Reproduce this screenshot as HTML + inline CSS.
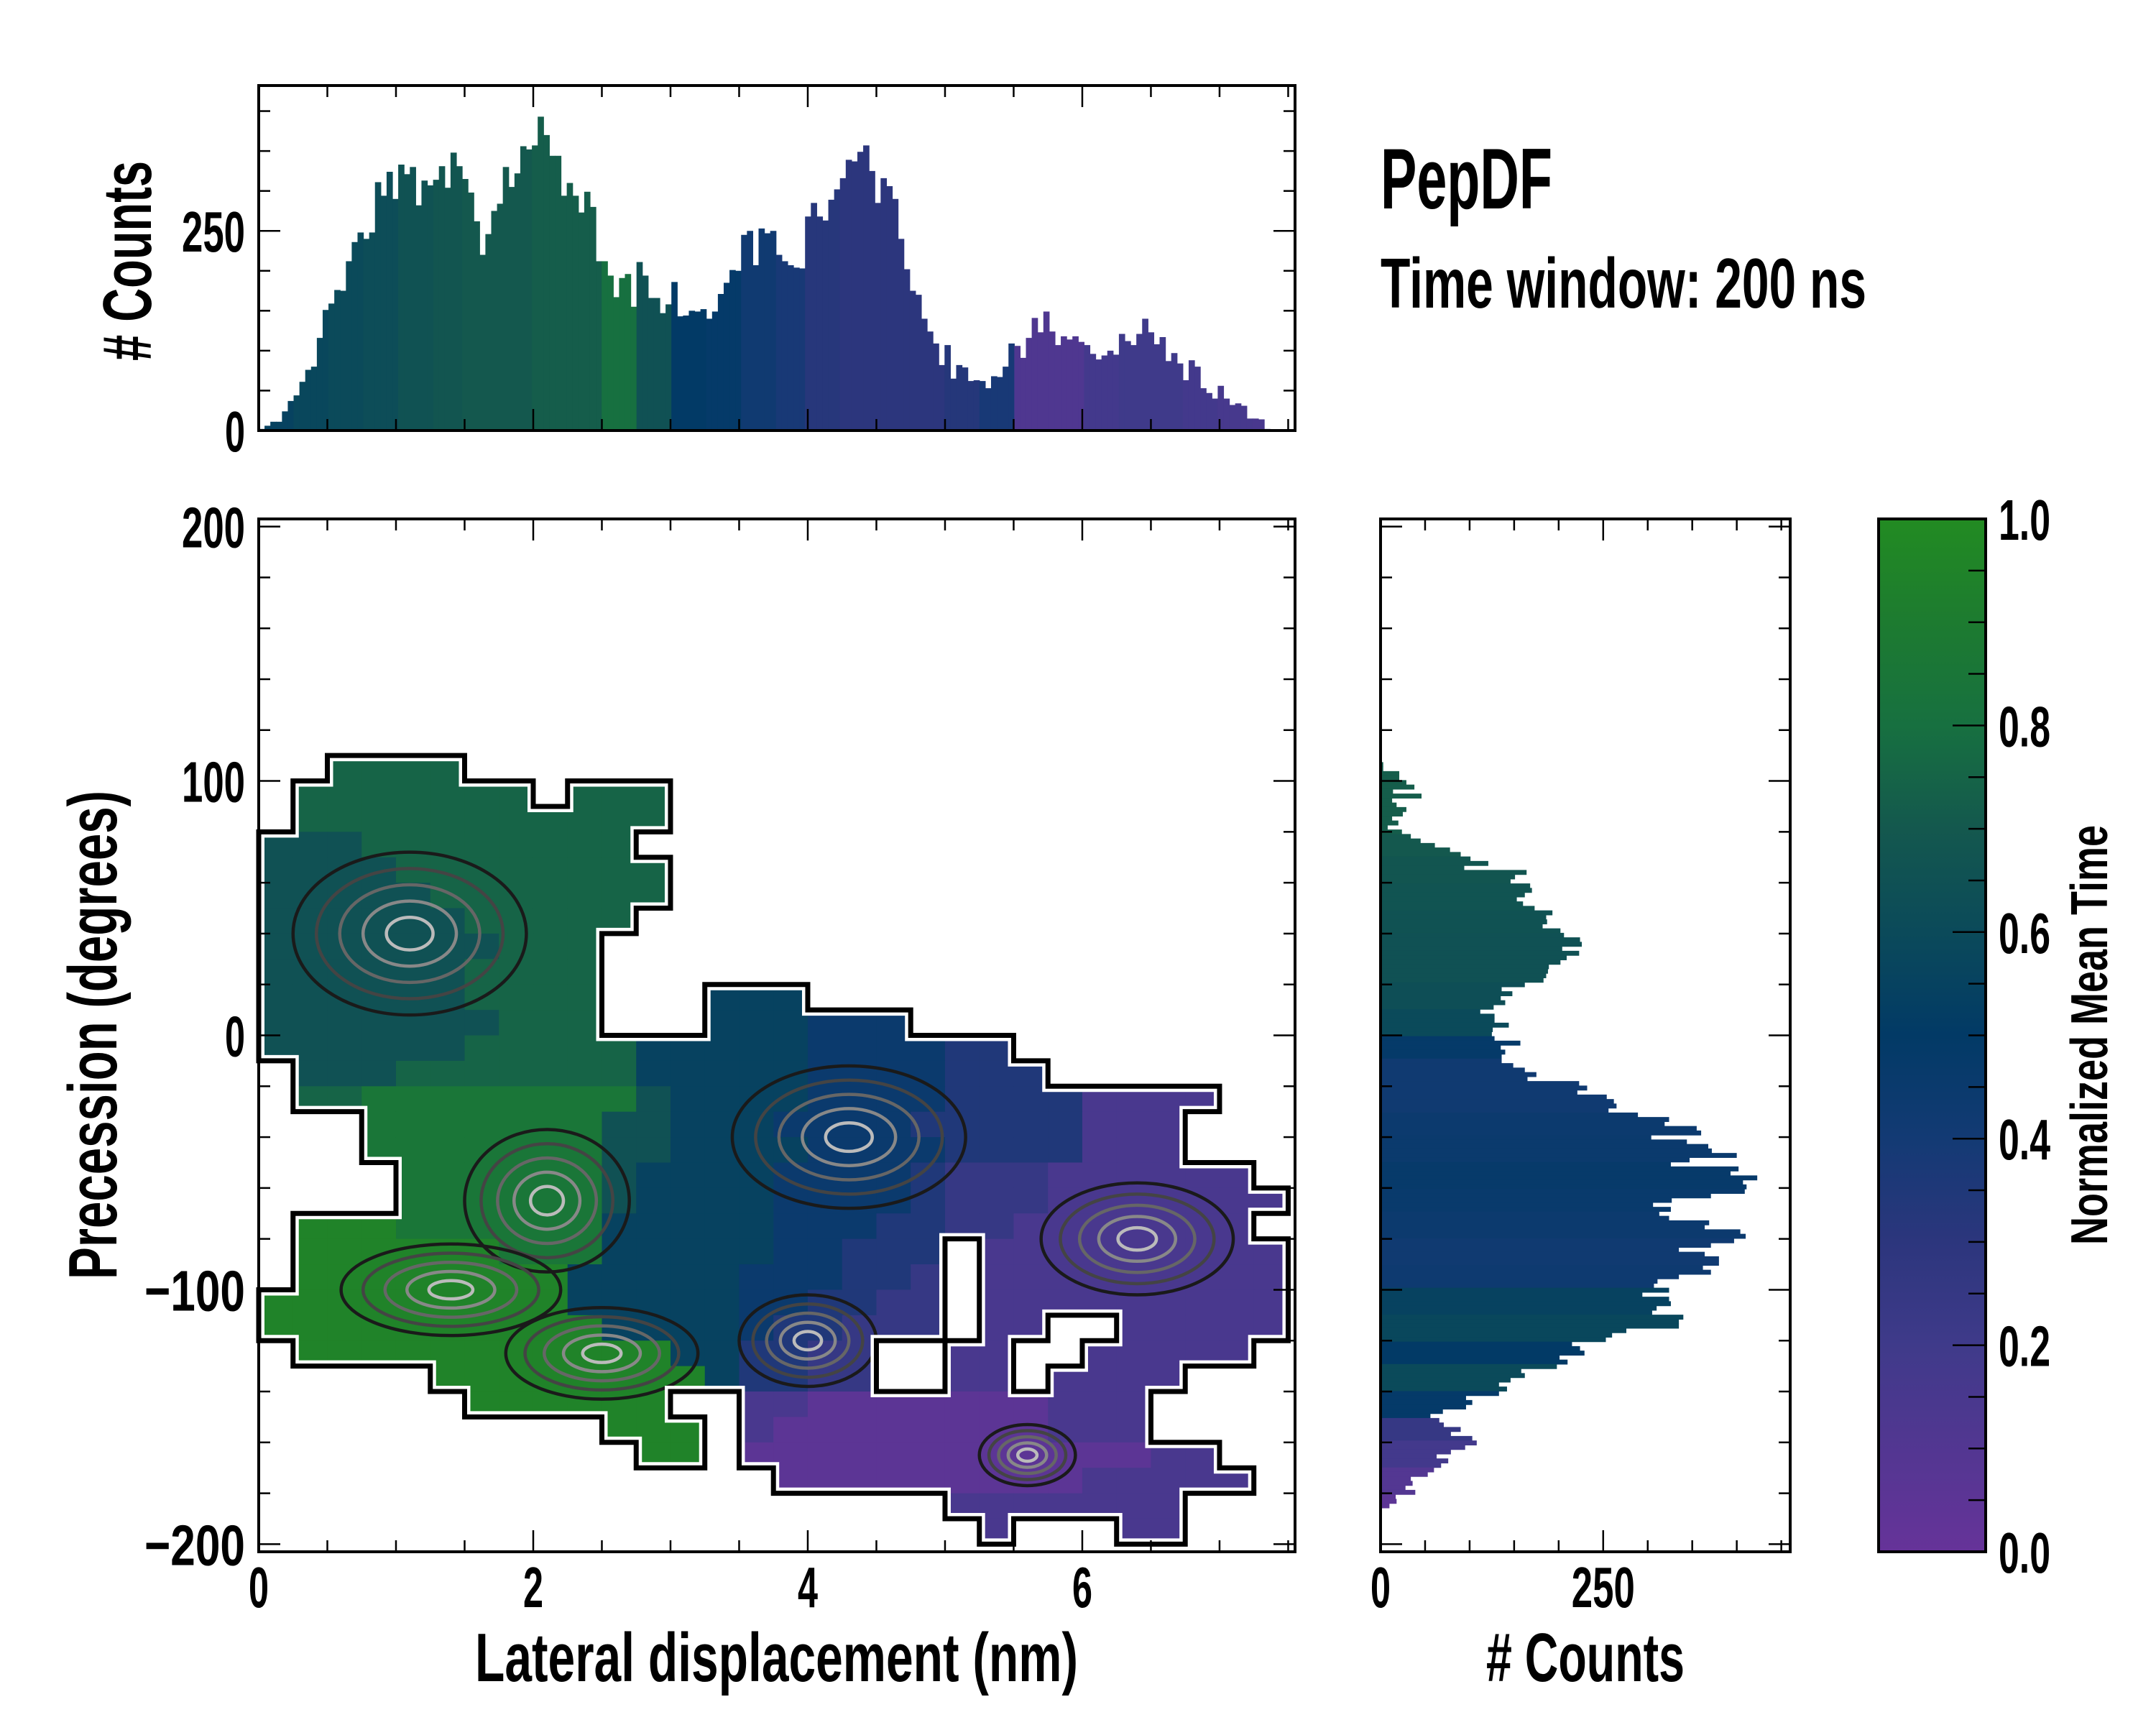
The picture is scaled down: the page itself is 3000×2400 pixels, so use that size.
<!DOCTYPE html>
<html><head><meta charset="utf-8"><style>
html,body{margin:0;padding:0;background:#fff;}
svg{display:block;}
text{font-family:"Liberation Sans",sans-serif;font-weight:bold;fill:#000;}
</style></head><body>
<svg id="fig" width="3000" height="2400" viewBox="0 0 3000 2400" xmlns="http://www.w3.org/2000/svg">
<defs>
<linearGradient id="cbgrad" x1="0" y1="1" x2="0" y2="0">
<stop offset="0" stop-color="#663399"/><stop offset="0.2" stop-color="#3f3a8a"/><stop offset="0.3" stop-color="#2c367d"/><stop offset="0.4" stop-color="#133a74"/><stop offset="0.5" stop-color="#023a66"/><stop offset="0.6" stop-color="#0b4a5a"/><stop offset="0.7" stop-color="#14584e"/><stop offset="0.8" stop-color="#177040"/><stop offset="0.9" stop-color="#1d7b30"/><stop offset="1" stop-color="#228b22"/>
</linearGradient>
</defs>
<g id="topHist"></g>
<g id="mainPlot"></g>
<g id="rightHist"></g>
<g id="cbar">
<rect x="2614" y="722" width="149" height="1437" fill="url(#cbgrad)" stroke="#000" stroke-width="4"/>
</g>
<g id="labels">
<text x="1921" y="290" font-size="120" textLength="239" lengthAdjust="spacingAndGlyphs">PepDF</text>
<text x="1921" y="428" font-size="98" textLength="676" lengthAdjust="spacingAndGlyphs">Time window: 200 ns</text>
<text x="661" y="2339" font-size="96" textLength="839" lengthAdjust="spacingAndGlyphs">Lateral displacement (nm)</text>
<text x="2068" y="2339" font-size="96" textLength="276" lengthAdjust="spacingAndGlyphs"># Counts</text>
<text transform="translate(162,1440) rotate(-90)" text-anchor="middle" font-size="96" textLength="680" lengthAdjust="spacingAndGlyphs">Precession (degrees)</text>
<text transform="translate(210,363) rotate(-90)" text-anchor="middle" font-size="96" textLength="278" lengthAdjust="spacingAndGlyphs"># Counts</text>
<text transform="translate(2932,1440) rotate(-90)" text-anchor="middle" font-size="72" textLength="584" lengthAdjust="spacingAndGlyphs">Normalized Mean Time</text>
</g>
</svg>
<script>
// ---------- data ----------
const topCounts=[2,6,11,11,24,37,44,61,76,80,116,151,159,176,175,212,236,248,240,248,311,294,324,290,333,321,330,282,313,307,314,331,304,348,331,315,298,262,220,246,275,284,330,305,322,356,352,357,393,370,344,344,294,310,294,273,299,280,212,212,194,167,191,196,155,211,194,166,166,147,158,186,143,144,150,149,152,140,149,171,185,201,200,245,250,207,253,247,250,220,212,207,204,203,268,285,268,263,289,302,316,339,337,349,357,325,285,316,306,290,240,202,175,170,140,124,109,82,107,65,82,79,62,63,62,53,68,67,80,109,106,91,116,141,123,149,124,107,118,114,118,111,107,96,89,94,100,95,121,112,107,121,140,123,108,117,87,97,84,63,88,80,53,47,40,56,40,32,34,31,15,15,14,2,1];
const topTime=[0.55,0.58,0.6,0.62,0.66,0.68,0.7,0.7,0.72,0.72,0.8,0.65,0.5,0.48,0.42,0.38,0.32,0.3,0.3,0.3,0.33,0.38,0.12,0.12,0.18,0.2,0.2,0.18,0.16,0.15];
const rightCounts=[3,3,21,21,29,38,14,46,13,18,29,25,13,20,8,24,34,45,61,78,90,101,121,94,164,151,146,168,170,162,153,160,173,193,186,187,182,202,206,224,226,204,223,209,202,189,188,186,183,162,136,148,135,140,127,112,128,128,144,126,125,128,157,135,140,136,136,149,162,175,165,223,232,221,254,262,265,256,289,324,319,355,360,304,344,368,372,400,347,326,402,393,423,407,411,409,371,327,306,326,313,324,369,364,404,410,397,371,335,364,380,380,362,371,335,311,307,324,294,324,326,310,305,340,335,335,276,260,253,215,224,229,201,210,198,158,162,146,133,142,133,96,103,96,70,56,66,71,90,79,103,108,95,79,63,76,68,60,53,34,36,28,39,17,18,10,1];
const rightTime=[0.72,0.72,0.72,0.7,0.68,0.67,0.66,0.65,0.65,0.63,0.6,0.48,0.42,0.42,0.44,0.45,0.47,0.46,0.44,0.42,0.43,0.55,0.58,0.5,0.6,0.48,0.25,0.18,0.1,0.05,0.05];
const rowTops=[110,100,90,80,70,60,50,40,30,20,10,0,-10,-20,-30,-40,-50,-60,-70,-80,-90,-100,-110,-120,-130,-140,-150,-160,-170,-180,-190];
const gridRows=[
"..7777........................",
".7777777.777..................",
".77777777777..................",
"66677777777...................",
"666677777777..................",
"666667777777..................",
"66666677777...................",
"6666666777....................",
"6666667777....................",
"6666667777...555..............",
"6666666777...555444...........",
"6666667777755555444433........",
".6667777777555554444333.......",
".778888888865555444433331111...",
"...888888866555444433333111...",
"...888888866555544443333111...",
"....8888886555544443222111111.",
"....88888865555444432221111111",
".9998888885555544433221111111",
".9999998885555544333.111111111",
".9999999955555444332.111111111",
"99999999955555443322.111111111",
"99999999995555433222.11..11111",
".99999999999553322..11..11111",
".....9999999953322..11.1111..",
"......999999..110000000111....",
"..........999.100000000111...",
"...........99.00000000000011...",
"...............00000000011111..",
"....................1111111...",
".....................1...11..."];
const peakX=[1.1,2.1,4.3,1.4,2.5,6.4,5.6,4.0];
const peakY=[40,-65,-40,-100,-125,-80,-165,-120];
const peakRx=[0.85,0.6,0.85,0.8,0.7,0.7,0.35,0.5];
const peakRy=[32,28,28,18,18,22,12,18];
const xTickLabels=["0","2","4","6"];
const yTickLabels=["200","100","0","\u2212100","\u2212200"];
const cbTickLabels=["0.0","0.2","0.4","0.6","0.8","1.0"];

// ---------- scales ----------
const NS="http://www.w3.org/2000/svg";
const M={L:360,R:1802,T:722,B:2159,x0:0,x1:7.55,y0:-203,y1:203};
const TH={T:119,B:599,max:432};
const RH={L:1921,R:2491,max:460};
const CB={L:2614,R:2763};
const X=v=>M.L+(v-M.x0)/(M.x1-M.x0)*(M.R-M.L);
const Y=v=>M.B-(v-M.y0)/(M.y1-M.y0)*(M.B-M.T);
const THy=c=>TH.B-c/TH.max*(TH.B-TH.T);
const RHx=c=>RH.L+c/RH.max*(RH.R-RH.L);
const stops=[[0,[102,51,153]],[0.2,[63,58,138]],[0.3,[44,54,125]],[0.4,[19,58,116]],[0.5,[2,58,102]],[0.6,[11,74,90]],[0.7,[20,88,78]],[0.8,[23,112,64]],[0.9,[29,123,48]],[1,[34,139,34]]];
function cmap(t){t=Math.max(0,Math.min(1,t));for(let i=1;i<stops.length;i++){if(t<=stops[i][0]){const a=stops[i-1],b=stops[i];const f=(t-a[0])/(b[0]-a[0]);const c=a[1].map((v,k)=>Math.round(v+(b[1][k]-v)*f));return `rgb(${c[0]},${c[1]},${c[2]})`;}}return "rgb(34,139,34)";}
function mk(tag,attrs,parent){const e=document.createElementNS(NS,tag);for(const k in attrs)e.setAttribute(k,attrs[k]);parent.appendChild(e);return e;}

// ---------- top histogram ----------
const gT=document.getElementById('topHist');
const bwT=7.41/topCounts.length;
topCounts.forEach((c,i)=>{const x0=i*bwT;const t=topTime[Math.min(topTime.length-1,Math.floor((x0+bwT/2)/0.25))];
 const r=mk('rect',{x:X(x0),y:THy(c),width:X(x0+bwT)-X(x0)+0.6,height:TH.B-THy(c),fill:cmap(t)},gT);
 
 });

// ---------- right histogram ----------
const gR=document.getElementById('rightHist');
const rTop=107.4,rBot=-187.5,bwR=(rTop-rBot)/rightCounts.length;
rightCounts.forEach((c,i)=>{const d0=rTop-i*bwR;const mid=d0-bwR/2;const t=rightTime[Math.max(0,Math.min(rightTime.length-1,Math.floor((110-mid)/10)))];
 const r=mk('rect',{x:RH.L,y:Y(d0),width:RHx(c)-RH.L,height:Y(d0-bwR)-Y(d0)+0.6,fill:cmap(t)},gR);
 
 });

// ---------- heatmap ----------
const gM=document.getElementById('mainPlot');
const cw=0.25;
const filled=(r,c)=>r>=0&&r<gridRows.length&&c>=0&&c<30&&gridRows[r][c]!==undefined&&gridRows[r][c]!=='.';
gridRows.forEach((row,r)=>{for(let c=0;c<row.length&&c<30;c++){const ch=row[c];if(ch==='.')continue;
 const t=parseInt(ch,10)/10+0.05;
 const cell=mk('rect',{x:X(c*cw),y:Y(rowTops[r]),width:X((c+1)*cw)-X(c*cw)+0.5,height:Y(rowTops[r]-10)-Y(rowTops[r])+0.5,fill:cmap(t)},gM);
 
 }});
const gC=mk('g',{},gM);


const shades=["#1a1a1a","#444","#666","#888","#bbb"];
peakX.forEach((px,i)=>{for(let k=0;k<shades.length;k++){const f=1-k*0.2;
 const e=mk('ellipse',{cx:X(px),cy:Y(peakY[i]),rx:(X(peakRx[i]*f)-X(0)),ry:(Y(0)-Y(peakRy[i]*f)),fill:"none",stroke:shades[k],"stroke-width":4.5},gC);
 
 }});
let d="";
for(let r=0;r<gridRows.length;r++)for(let c=0;c<30;c++){if(!filled(r,c))continue;
 const x0=X(c*cw),x1=X((c+1)*cw),y0=Y(rowTops[r]),y1=Y(rowTops[r]-10);
 if(!filled(r-1,c))d+=`M${x0},${y0}H${x1}`;
 if(!filled(r+1,c))d+=`M${x0},${y1}H${x1}`;
 if(!filled(r,c-1))d+=`M${x0},${y0}V${y1}`;
 if(!filled(r,c+1))d+=`M${x1},${y0}V${y1}`;}
const ow=mk('path',{d:d,fill:"none",stroke:"#fff","stroke-width":16,"stroke-linecap":"square"},gM);


const ob=mk('path',{d:d,fill:"none",stroke:"#000","stroke-width":7,"stroke-linecap":"square"},gM);



// ---------- axes frames & ticks ----------
const svg=document.getElementById('fig');
function frame(x,y,w,h,name){const f=mk('rect',{x:x,y:y,width:w,height:h,fill:"none",stroke:"#000","stroke-width":4},svg);
 
 }
function tick(x1,y1,x2,y2){mk('line',{x1:x1,y1:y1,x2:x2,y2:y2,stroke:"#000","stroke-width":2.5},svg);}
function label(txt,x,y,anchor,w,name){const t=mk('text',{x:x,y:y,"text-anchor":anchor,"font-size":80,textLength:w,lengthAdjust:"spacingAndGlyphs"},svg);t.textContent=txt;
 
 }
frame(M.L,TH.T,M.R-M.L,TH.B-TH.T,'top-hist-frame');
frame(M.L,M.T,M.R-M.L,M.B-M.T,'main-frame');
frame(RH.L,M.T,RH.R-RH.L,M.B-M.T,'right-hist-frame');
for(let v=0;v<=7.5+1e-6;v+=0.5){const maj=Math.abs(v%2)<1e-6;const L=maj?30:16;const x=X(v);
 tick(x,M.B,x,M.B-L);tick(x,M.T,x,M.T+L);tick(x,TH.B,x,TH.B-L);tick(x,TH.T,x,TH.T+L);}
for(let v=-200;v<=200;v+=20){const maj=v%100===0;const L=maj?30:16;const y=Y(v);
 tick(M.L,y,M.L+L,y);tick(M.R,y,M.R-L,y);tick(RH.L,y,RH.L+L,y);tick(RH.R,y,RH.R-L,y);}
for(let c=0;c<=TH.max;c+=50){const maj=c%250===0;const L=maj?30:16;const y=THy(c);tick(M.L,y,M.L+L,y);tick(M.R,y,M.R-L,y);}
for(let c=0;c<=RH.max;c+=50){const maj=c%250===0;const L=maj?30:16;const x=RHx(c);tick(x,M.B,x,M.B-L);tick(x,M.T,x,M.T+L);}
for(let i=0;i<=20;i++){const v=i/20;const y=M.B-v*(M.B-M.T);const L=(i%4===0)?46:24;tick(CB.R,y,CB.R-L,y);}
xTickLabels.forEach((s,i)=>label(s,X(i*2),2236,"middle",28,'x-tick-label'));
yTickLabels.forEach((s,i)=>label(s,341,Y(200-i*100)+29,"end",s.length>3?140:(s.length===3?88:28),'y-tick-label'));
label("0",341,THy(0)+29,"end",28,'top-hist-y-tick-label');
label("250",341,THy(250)+29,"end",88,'top-hist-y-tick-label');
label("0",RHx(0),2236,"middle",28,'right-hist-x-tick-label');
label("250",RHx(250),2236,"middle",88,'right-hist-x-tick-label');
cbTickLabels.forEach((s,i)=>label(s,2781,M.B-i*0.2*(M.B-M.T)+29,"start",72,'colorbar-tick-label'));
</script>
</body></html>
